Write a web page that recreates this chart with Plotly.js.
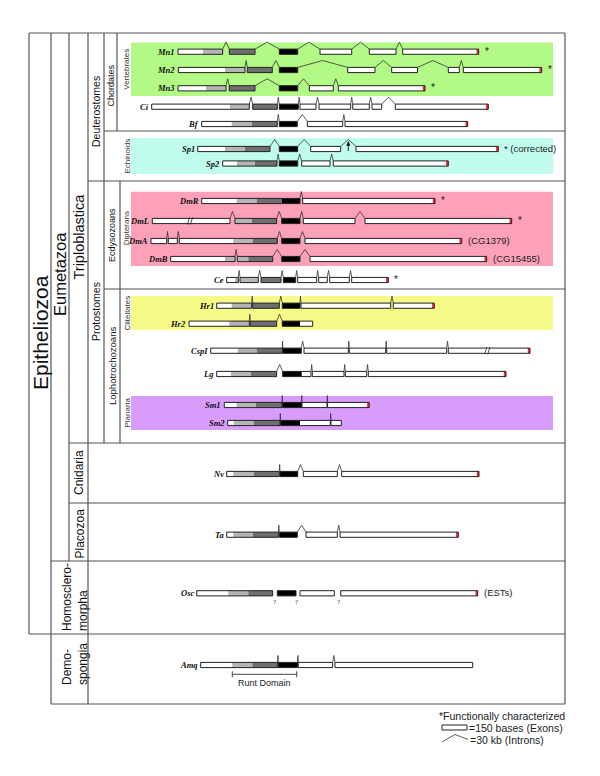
<!DOCTYPE html>
<html><head><meta charset="utf-8">
<script src="https://cdn.plot.ly/plotly-3.0.1.min.js"></script>
<style>body{margin:0;background:#fff}#chart{width:600px;height:776px}</style>
</head><body><div id="chart"></div>
<script>
// ---------- DATA (diagram units = positions along the gene drawing) ----------
const geneNames = ['Mn1','Mn2','Mn3','Ci','Bf','Sp1','Sp2','DmR','DmL','DmA','DmB','Ce','Hr1','Hr2','CspI','Lg','Sm1','Sm2','Nv','Ta','Osc','Amq'];
const geneRowY = [51.7,70,88.3,106.7,124,149,163.5,201,221,241,259,280,305.7,323.7,350.7,374,405,423,474,534.7,593.3,665];
const geneExons = [
 [[178,222.7],[229.3,255],[279.3,297.7],[320,351.7],[369.3,396],[402.7,478.7]],
 [[178.3,245],[247.3,272.3],[279.3,297.7],[347.7,375],[391.7,417.5],[448.3,459.3],[463.3,541.7]],
 [[178,226],[229.3,255],[279.3,297.7],[309.3,333.3],[338.3,425]],
 [[151.7,249.3],[252.7,277.3],[279.3,298.3],[300,316],[319,350.7],[352.7,369.3],[372,381.7],[395.3,488.3]],
 [[201.7,277.3],[279.3,297.3],[307.3,342.7],[345,467.7]],
 [[197.7,270],[279.3,297.7],[310.7,340.7],[356,498.3]],
 [[222.7,277],[279.3,297.7],[301.7,330],[333.3,448.3]],
 [[201.7,300],[302.7,435]],
 [[152.3,230],[235,276.7],[281.7,300],[303.3,355],[365,511.7]],
 [[151,166.7],[168.3,177.3],[179.3,277.3],[281.7,300],[305,461.7]],
 [[170.7,235],[237.3,272.7],[281.7,300],[310,486.7]],
 [[226.7,238.3],[240,258.3],[261,281],[283.3,295.7],[297.7,316.7],[318.7,327.3],[329.7,349.3],[351.7,388.3]],
 [[216.7,251.7],[252.7,279.3],[282.3,300],[301,390.7],[393.3,434.3]],
 [[189,249.3],[250.3,276.7],[282.3,312.7]],
 [[210.7,282.3],[282.8,301.3],[304,348.3],[349.3,385.7],[386.7,446.7],[448.3,530]],
 [[216.7,276.7],[282.7,311],[312.3,344],[345.3,366.7],[368.3,506]],
 [[224.3,282],[282.5,301.5],[302,327],[327.6,369.3]],
 [[227.7,280],[280.6,330.3],[331,341.3]],
 [[226.7,279.3],[280,297.7],[303.3,337.3],[341.7,479]],
 [[226.7,278.3],[279.3,297.3],[306,337.3],[340,458.3]],
 [[196.7,272.7],[277.3,296],[300,334.3],[340.7,477.7]],
 [[200.7,277.7],[278.2,297.5],[298.3,332.7],[335,472.7]]
];
// shaded parts of exons: L = light grey, D = dark grey, B = black (Runt domain)
const geneShades = [
 [[203,222.7,'L'],[229.3,255,'D'],[279.3,297.7,'B']],
 [[225,245,'L'],[247.3,272.3,'D'],[279.3,297.7,'B']],
 [[206,226,'L'],[229.3,255,'D'],[279.3,297.7,'B']],
 [[230,249.3,'L'],[252.7,277.3,'D'],[279.3,298.3,'B']],
 [[231.7,251.7,'L'],[251.7,277.3,'D'],[279.3,297.3,'B']],
 [[225,245,'L'],[245,270,'D'],[279.3,297.7,'B']],
 [[237,255,'L'],[255,277,'D'],[279.3,297.7,'B']],
 [[236.7,256.7,'L'],[256.7,281.7,'D'],[281.7,300,'B']],
 [[235,251.7,'L'],[251.7,276.7,'D'],[281.7,300,'B']],
 [[233.3,252.7,'L'],[252.7,277.3,'D'],[281.7,300,'B']],
 [[225,235,'L'],[237.3,248.3,'L'],[248.3,272.7,'D'],[281.7,300,'B']],
 [[235,238.3,'L'],[240,258.3,'L'],[261,281,'D'],[283.3,295.7,'B']],
 [[231.7,251.7,'L'],[252.7,279.3,'D'],[282.3,300,'B']],
 [[229.3,249.3,'L'],[250.3,276.7,'D'],[282.3,300,'B']],
 [[237.7,256.7,'L'],[256.7,282.3,'D'],[282.8,301.3,'B']],
 [[231,251,'L'],[251,276.7,'D'],[282.7,301.7,'B']],
 [[236.7,256,'L'],[256,282,'D'],[282.5,301.5,'B']],
 [[233.7,254,'L'],[254,280,'D'],[280.6,300,'B']],
 [[233.3,254,'L'],[254,279.3,'D'],[280,297.7,'B']],
 [[233.3,253,'L'],[253,278.3,'D'],[279.3,297.3,'B']],
 [[228.3,248.3,'L'],[248.3,272.7,'D'],[277.3,296,'B']],
 [[232.3,252.3,'L'],[252.3,277.7,'D'],[278.2,297.5,'B']]
];
const geneIntrons = [
 [[222.7,229.3],[255,279.3],[297.7,320],[351.7,369.3],[396,402.7]],
 [[245,247.3],[272.3,279.3],[297.7,347.7],[375,391.7],[417.5,448.3],[459.3,463.3]],
 [[226,229.3],[255,279.3],[297.7,309.3],[333.3,338.3]],
 [[249.3,252.7],[277.3,279.3],[298.3,300],[316,319],[350.7,352.7],[369.3,372],[381.7,395.3]],
 [[277.3,279.3],[297.3,307.3],[342.7,345]],
 [[270,279.3],[297.7,310.7],[340.7,356]],
 [[277,279.3],[297.7,301.7],[330,333.3]],
 [[300,302.7]],
 [[230,235],[276.7,281.7],[300,303.3],[355,365]],
 [[166.7,168.3],[177.3,179.3],[277.3,281.7],[300,305]],
 [[235,237.3],[272.7,281.7],[300,310]],
 [[238.3,240],[258.3,261],[281,283.3],[295.7,297.7],[316.7,318.7],[327.3,329.7],[349.3,351.7]],
 [[251.7,252.7],[279.3,282.3],[300,301],[390.7,393.3]],
 [[249.3,250.3],[276.7,282.3]],
 [[282.3,282.8],[301.3,304],[348.3,349.3],[385.7,386.7],[446.7,448.3]],
 [[276.7,282.7],[311,312.3],[344,345.3],[366.7,368.3]],
 [[282,282.5],[301.5,302],[327,327.6]],
 [[280,280.6],[330.3,331]],
 [[279.3,280],[297.7,303.3],[337.3,341.7]],
 [[278.3,279.3],[297.3,306],[337.3,340]],
 [],
 [[277.7,278.2],[297.5,298.3],[332.7,335]]
];
const geneRedEnd = [1,1,1,1,1,1,1,1,1,1,1,1,1,0,1,1,1,0,1,1,1,0];
const geneNotes = ['*','*','*','','','* (corrected)','','*','*','(CG1379)','(CG15455)','*','','','','','','','','','(ESTs)',''];
const geneBreaks = [['DmL',190],['CspI',487.3]];
const unknownIntrons = [274.3,296.7,338.3]; // Osc "?"
const runtDomain = [232.3,296.7];

// clade panels
const panelNames = ['Vertebrates','Echinoids','Dipterans','Clitellates','Planaria'];
const panelTop = [42.5,138,191.7,296,396];
const panelBottom = [96,174,266,330,430];

const cladeNames = ['Epitheliozoa','Eumetazoa','Triploblastica','Deuterostomes','Protostomes','Chordates','Ecdysozoans','Lophotrochozoans','Cnidaria','Placozoa','Homosclero-<br>morpha','Demo-<br>spongia'];

// ---------- DRAWING ----------
const shapes = [], ann = [];
const LINE = '#444';
function rect(x0,x1,y0,y1,fill,lc,lw){shapes.push({type:'rect',xref:'x',yref:'y',x0,x1,y0,y1,fillcolor:fill,line:{color:lc||fill,width:lw===undefined?0:lw},layer:'above'});}
function seg(x0,y0,x1,y1,c,w){shapes.push({type:'line',xref:'x',yref:'y',x0,y0,x1,y1,line:{color:c||LINE,width:w||1},layer:'above'});}
function path(d,c,w,fill){shapes.push({type:'path',xref:'x',yref:'y',path:d,line:{color:c,width:w},fillcolor:fill||'rgba(0,0,0,0)',layer:'above'});}
function text(x,y,t,o){ann.push(Object.assign({x,y,xref:'x',yref:'y',text:t,showarrow:false,font:{family:'Arial, Liberation Sans',size:9,color:'#222'}},o||{}));}

const panelColors = ['#b3f985','#c0fdef','#fda1b9','#f6fb88','#d89cfd'];
panelNames.forEach((n,i)=>{
  rect(131,553,panelTop[i],panelBottom[i],panelColors[i]);
  text(126.5,(panelTop[i]+panelBottom[i])/2,n,{textangle:-90,font:{family:'Arial, Liberation Sans',size:8,color:'#333'}});
});

// frame
const hLines=[[29,565,33],[104,565,131],[88,565,181],[104,565,289],[69,565,443],[69,565,503],[51,565,561],[29,565,634],[51,565,704]];
const vLines=[[29,33,634],[51,33,704],[69,33,561],[88,33,704],[104,33,443],[117,33,131],[120,181,443],[565,33,704]];
hLines.forEach(l=>seg(l[0],l[2],l[1],l[2],'#555',1.2));
vLines.forEach(l=>seg(l[0],l[1],l[0],l[2],'#555',1.2));

// clade labels
const cladeX=[40,60,78.5,96,96,110.5,112,112,79,79,75,75];
const cladeY=[333,274,237,112,312,86,235,366,473,533.5,597,664];
const cladeSize=[21,16.5,14.5,10.5,10.5,9,9,9.5,12,12,12,12];
cladeNames.forEach((n,i)=>text(cladeX[i],cladeY[i],n,{textangle:-90,align:'left',font:{family:'Arial, Liberation Sans',size:cladeSize[i],color:'#111'}}));

// genes
const shadeCol={L:'#b5b5b5',D:'#6f6f6f',B:'#000'};
const H=2.6;
geneNames.forEach((g,i)=>{
  const y=geneRowY[i];
  geneExons[i].forEach(e=>rect(e[0],e[1],y-H,y+H,'#fff'));
  geneShades[i].forEach(s=>rect(s[0],s[1],y-H,y+H,shadeCol[s[2]]));
  const ex=geneExons[i];
  if(geneRedEnd[i]){const last=ex[ex.length-1];rect(last[1]-2.2,last[1],y-H,y+H,'#ff1f3d');}
  ex.forEach(e=>rect(e[0],e[1],y-H,y+H,'rgba(0,0,0,0)','#222',1));
  geneIntrons[i].forEach(n=>{
    const m=(n[0]+n[1])/2;
    path(`M${n[0]},${y-H} L${m},${y-9.5} L${n[1]},${y-H}`,'#333',0.8);
  });
  text(ex[0][0]-1,y,'<b><i>'+g+'</i></b>',{xanchor:'right',font:{family:'Liberation Serif, DejaVu Serif',size:8.5,color:'#111'}});
  if(geneNotes[i]) text(ex[ex.length-1][1]+4,y+(geneNotes[i]==='*'?-0.5:-1),geneNotes[i],{xanchor:'left',font:{family:'Arial, Liberation Sans',size:geneNotes[i]==='*'?10:9.5,color:'#222'}});
});
// breaks
geneBreaks.forEach(b=>{
  const i=geneNames.indexOf(b[0]),y=geneRowY[i];
  rect(b[1]-1.5,b[1]+1.5,y-H+0.6,y+H-0.6,'#fff');
  seg(b[1]-2.6,y+H+1,b[1]-0.4,y-H-1,'#222',0.8);
  seg(b[1]+0.4,y+H+1,b[1]+2.6,y-H-1,'#222',0.8);
});
// Sp1 arrow
{const i=geneNames.indexOf('Sp1'),y=geneRowY[i];
 seg(348.3,y+2,348.3,y-5,'#111',0.9);
 path(`M346.6,${y-3.5} L348.3,${y-7.5} L350,${y-3.5} Z`,'#111',0.5,'#111');}
// Osc question marks
{const i=geneNames.indexOf('Osc'),y=geneRowY[i];
 unknownIntrons.forEach(x=>text(x,y+9,'?',{font:{family:'Liberation Serif',size:7,color:'#333'}}));}
// Runt domain bracket
{const y=geneRowY[geneNames.indexOf('Amq')]+9.3;
 seg(runtDomain[0],y,runtDomain[1],y,'#333',0.9);
 seg(runtDomain[0],y-3,runtDomain[0],y+3,'#333',0.9);
 seg(runtDomain[1],y-3,runtDomain[1],y+3,'#333',0.9);
 text((runtDomain[0]+runtDomain[1])/2,y+9,'Runt Domain',{font:{family:'Arial, Liberation Sans',size:9,color:'#222'}});}

// legend
text(437,716,'*Functionally characterized',{xanchor:'left',font:{family:'Arial, Liberation Sans',size:10.5,color:'#222'}});
rect(442,467,725,730,'#fff','#222',1);
text(467,727.5,'=150 bases (Exons)',{xanchor:'left',font:{family:'Arial, Liberation Sans',size:10.5,color:'#222'}});
path('M442,742 L455,734.5 L468,739.5','#333',0.8);
text(468,739.5,'=30 kb (Introns)',{xanchor:'left',font:{family:'Arial, Liberation Sans',size:10.5,color:'#222'}});

const layout={width:600,height:776,margin:{l:0,r:0,t:0,b:0},paper_bgcolor:'#fff',plot_bgcolor:'#fff',showlegend:false,
  xaxis:{range:[0,600],visible:false,fixedrange:true},
  yaxis:{range:[776,0],visible:false,fixedrange:true},
  shapes,annotations:ann};
Plotly.newPlot('chart',[{x:[0],y:[0],mode:'markers',marker:{opacity:0},hoverinfo:'skip'}],layout,{staticPlot:true});
</script></body></html>
